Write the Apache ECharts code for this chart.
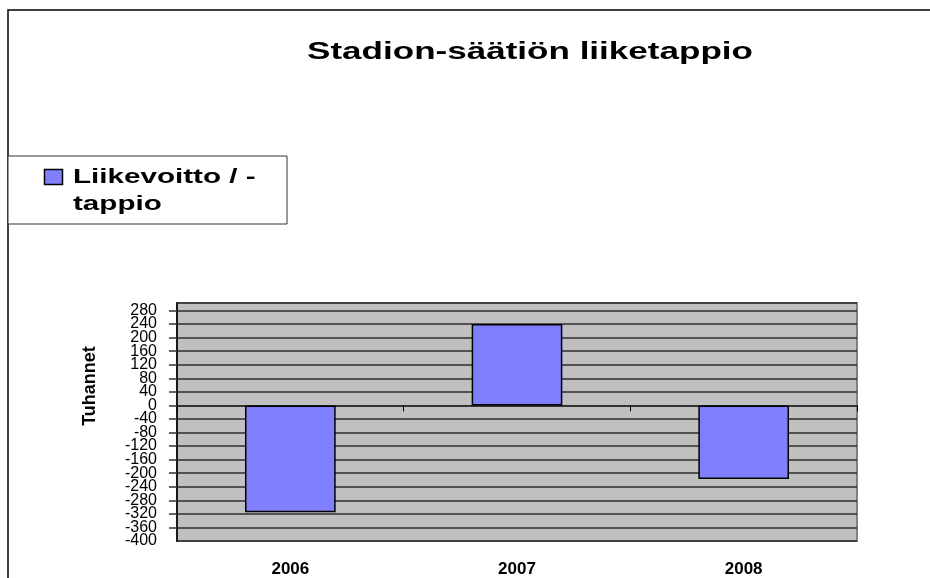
<!DOCTYPE html>
<html>
<head>
<meta charset="utf-8">
<title>Stadion-säätiön liiketappio</title>
<script src="https://cdn.jsdelivr.net/npm/echarts@6/dist/echarts.min.js"></script>
<style>
html, body { margin: 0; padding: 0; background: #fff; }
#chart { width: 930px; height: 578px; }
</style>
</head>
<body>
<div id="chart"></div>
<script>
// data (tuhansia euroja)
var years = ['2006', '2007', '2008'];
var liikevoitto = [-315, 240, -217];
var legendLines = ['Liikevoitto / -', 'tappio'];
var chartTitle = 'Stadion-säätiön liiketappio';
var axisName = 'Tuhannet';
var yMin = -400;
var yMax = 302;
var yStep = 40;

var font = '"Liberation Sans", Arial, sans-serif';

var yLabelStyle = {
	margin: 20,
	color: '#000',
	fontFamily: font,
	fontSize: 16
};

var chart = echarts.init(document.getElementById('chart'));

var option = {
	animation: false,
	backgroundColor: '#fff',
	grid: {
		left: 177,
		right: 73,
		top: 303,
		bottom: 37,
		show: true,
		backgroundColor: '#c0c0c0',
		borderColor: '#808080',
		borderWidth: 2
	},
	xAxis: [
		{
			// labels at the bottom of the plot
			type: 'category',
			data: years,
			position: 'bottom',
			axisLine: { show: false, onZero: false },
			axisTick: { show: false },
			axisLabel: {
				margin: 20,
				color: '#000',
				fontFamily: font,
				fontWeight: 'bold',
				fontSize: 17
			}
		},
		{
			// the axis line itself sits on zero
			type: 'category',
			data: years,
			position: 'bottom',
			axisLine: { show: true, onZero: true, lineStyle: { color: '#2a2a2a', width: 1.5 } },
			axisTick: { show: true, length: 6, lineStyle: { color: '#000', width: 1 } },
			axisLabel: { show: false }
		}
	],
	yAxis: [
		{
			type: 'value',
			position: 'left',
			min: yMin,
			max: yMax,
			interval: yStep,
			axisLine: { show: true, lineStyle: { color: '#1a1a1a', width: 2 } },
			axisTick: { show: true, length: 8, lineStyle: { color: '#333', width: 1.5 } },
			axisLabel: Object.assign({ showMaxLabel: false }, yLabelStyle),
			splitLine: { show: true, lineStyle: { color: '#2e2e2e', width: 1.5 } }
		},
		{
			// the labels crowd each other, so echarts drops the lowest one; put it back here
			type: 'value',
			position: 'left',
			min: yMin,
			max: yMax,
			axisLine: { show: false },
			axisTick: { show: false },
			splitLine: { show: false },
			axisLabel: Object.assign({ customValues: [yMin] }, yLabelStyle)
		}
	],
	series: [
		{
			name: legendLines.join(' '),
			type: 'bar',
			xAxisIndex: 0,
			yAxisIndex: 0,
			data: liikevoitto,
			barWidth: '40%',
			itemStyle: {
				color: '#8080ff',
				borderColor: '#000',
				borderWidth: 1.5
			}
		}
	],
	graphic: [
		{
			// chart frame, cut off on the right and bottom like the original
			type: 'polyline',
			shape: { points: [[8, 578], [8, 10], [930, 10]] },
			style: { stroke: '#000', lineWidth: 1.5, fill: null }
		},
		{
			type: 'text',
			x: 530,
			y: 52,
			scaleX: 1.46,
			style: {
				text: chartTitle,
				fill: '#000',
				font: 'bold 24px ' + font,
				textAlign: 'center',
				textVerticalAlign: 'middle'
			}
		},
		{
			type: 'text',
			x: 90.5,
			y: 386,
			rotation: Math.PI / 2,
			style: {
				text: axisName,
				fill: '#000',
				font: 'bold 18px ' + font,
				textAlign: 'center',
				textVerticalAlign: 'middle'
			}
		},
		{
			// legend box
			type: 'rect',
			shape: { x: 8, y: 156, width: 279, height: 68 },
			style: { fill: '#fff', stroke: '#333', lineWidth: 1 }
		},
		{
			type: 'rect',
			shape: { x: 44.5, y: 169.5, width: 18, height: 15 },
			style: { fill: '#8080ff', stroke: '#000', lineWidth: 1.5 }
		},
		{
			type: 'text',
			x: 73,
			y: 177.5,
			scaleX: 1.41,
			style: {
				text: legendLines[0],
				fill: '#000',
				font: 'bold 21px ' + font,
				textAlign: 'left',
				textVerticalAlign: 'middle'
			}
		},
		{
			type: 'text',
			x: 73,
			y: 204.5,
			scaleX: 1.41,
			style: {
				text: legendLines[1],
				fill: '#000',
				font: 'bold 21px ' + font,
				textAlign: 'left',
				textVerticalAlign: 'middle'
			}
		}
	]
};

chart.setOption(option);
</script>
</body>
</html>
